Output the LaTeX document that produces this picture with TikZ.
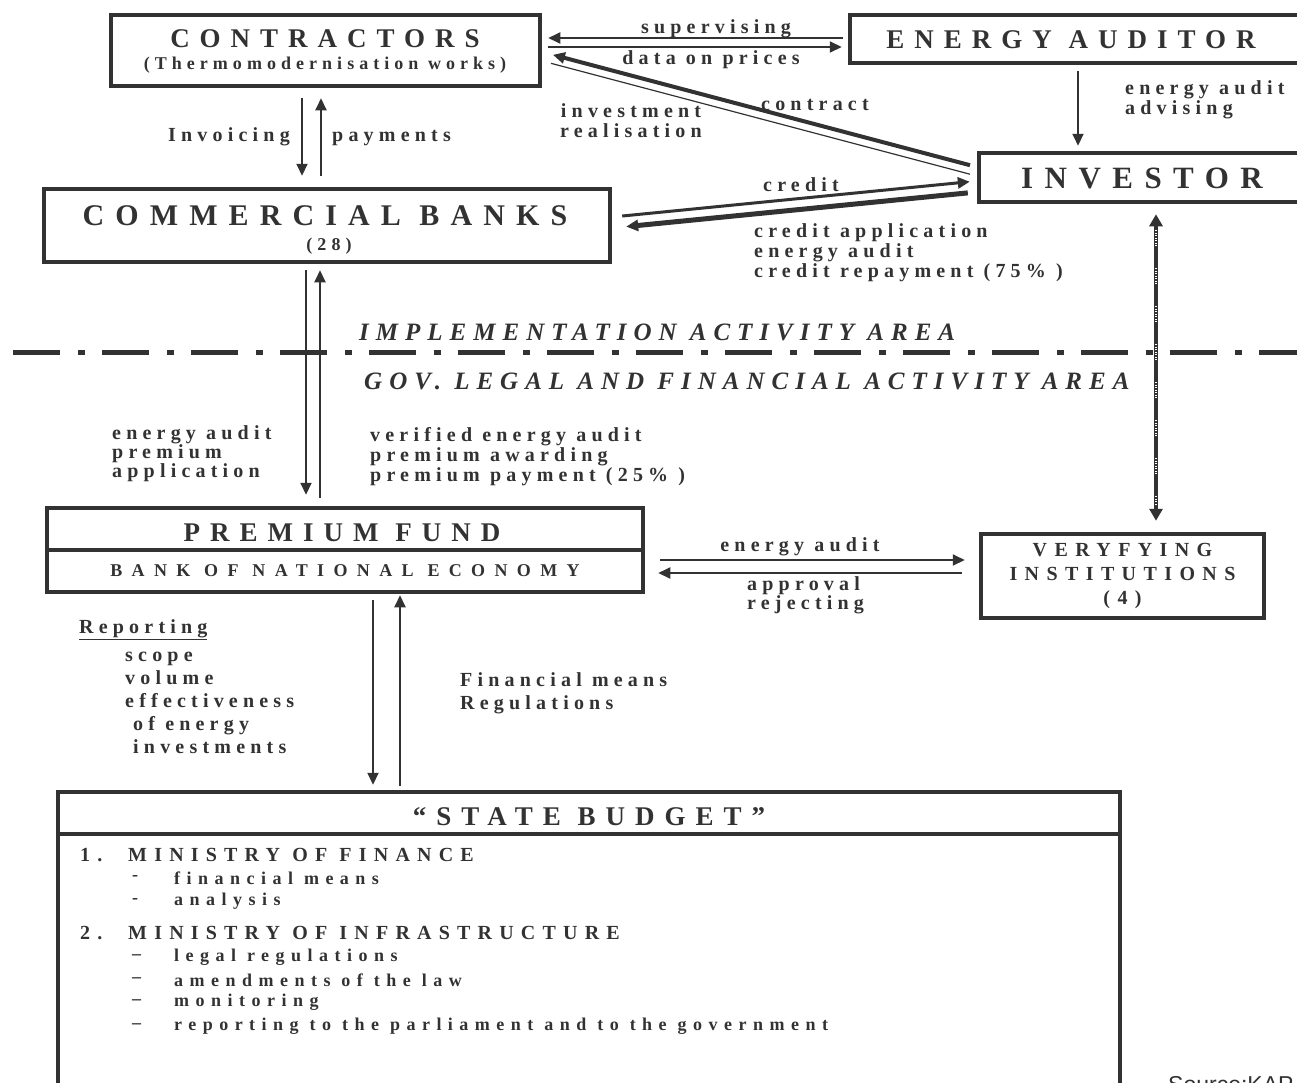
\documentclass[tikz,border=0pt]{standalone}
\usepackage{fontspec}
\newfontfamily\capfont{Liberation Serif}[LetterSpace=37]
\newfontfamily\subfont{Liberation Serif}[LetterSpace=28]
\newfontfamily\bankfont{Liberation Serif}[LetterSpace=52]
\newfontfamily\areafont{Liberation Serif}[LetterSpace=28]
\newfontfamily\lblfont{Liberation Serif}[LetterSpace=26]
\newfontfamily\budfont{Liberation Serif}[LetterSpace=36]
\newfontfamily\srcfont{Liberation Sans}
\usetikzlibrary{arrows.meta}
\definecolor{ink}{RGB}{50,50,50}

\tikzset{
  box/.style={draw=ink, line width=4.5pt, inner sep=0pt, align=center, text=ink},
  ttl/.style={text=ink, inner sep=0pt, align=center, font=\capfont\bfseries\fontsize{#1}{#1}\selectfont},
  ttl/.default=27,
  sub/.style={text=ink, inner sep=0pt, font=\subfont\bfseries\fontsize{18}{18}\selectfont},
  lbl/.style={text=ink, inner sep=0pt, align=left, font=\lblfont\bfseries\fontsize{20}{#1}\selectfont},
  lbl/.default=20,
  area/.style={text=ink, inner sep=0pt, anchor=west, font=\areafont\bfseries\itshape\fontsize{25}{25}\selectfont},
  bud/.style={text=ink, inner sep=0pt, anchor=west, font=\budfont\bfseries\fontsize{#1}{#1}\selectfont},
  arr/.style={draw=ink, line width=2pt, -{Triangle[length=12pt,width=11pt]}},
  areasep/.style={draw=ink, line width=5pt, dash pattern=on 47pt off 18pt on 7pt off 17pt},
}

\begin{document}
\begin{tikzpicture}[x=1pt,y=-1pt]
\useasboundingbox (0,0) rectangle (1297,1082);

% implementation area
\node[box, minimum width=429pt, minimum height=71pt] (contr) at (325.5,50.5) {};
\node[ttl] (contrT) at (325,39) {CONTRACTORS};
\node[sub] (contrS) at (325,65) {(Thermomodernisation works)};

\node[box, minimum width=500pt, minimum height=48pt] (auditor) at (1100,39) {};
\node[ttl] (auditorT) at (1071,40) {ENERGY AUDITOR};

\node[box, minimum width=500pt, minimum height=49pt] (investor) at (1229,177.5) {};
\node[ttl=31] (investorT) at (1142,178) {INVESTOR};

\node[box, minimum width=566pt, minimum height=73pt] (banks) at (327,225.5) {};
\node[ttl=30] (banksT) at (325,216) {COMMERCIAL BANKS};
\node[sub] (banksN) at (329,246) {(28)};

\draw[arr, shorten <=5pt, shorten >=6pt] (auditor.west|-0,38) -- (contr.east|-0,38);
\draw[arr, shorten <=6pt, shorten >=6pt] (contr.east|-0,47) -- (auditor.west|-0,47);
\node[lbl] (supL) at (716,29) {supervising};
\node[lbl] (dataL) at (711,60) {data on prices};

\draw[arr, line width=4pt, shorten <=7pt, shorten >=11pt] (investor.west|-0,167) -- (contr.east|-0,52);
\draw[draw=ink, line width=1.2pt, shorten <=7pt, shorten >=9pt] (investor.west|-0,176) -- (contr.east|-0,61);
\node[lbl, anchor=west] (contractL) at (761,105) {contract};
\node[lbl, align=center] (realL) at (631,121) {investment\\realisation};

\draw[arr, shorten <=6pt, shorten >=5pt] (auditor.south-|1078,0) -- (investor.north-|1078,0);
\node[lbl, anchor=west] (adviseL) at (1125,100) {energy audit\\advising};

\draw[arr, shorten <=10pt, shorten >=11pt] (contr.south-|302,0) -- (banks.north-|302,0);
\draw[arr, shorten <=11pt, shorten >=10pt] (banks.north-|321,0) -- (contr.south-|321,0);
\node[lbl, anchor=east] (invoiceL) at (290,137) {Invoicing};
\node[lbl, anchor=west] (payL) at (332,138) {payments};

\draw[arr, line width=3pt, shorten <=10pt, shorten >=7pt] (banks.east|-0,217) -- (investor.west|-0,181);
\draw[arr, line width=5pt, shorten <=9pt, shorten >=14pt] (investor.west|-0,192) -- (banks.east|-0,228);
\node[lbl, anchor=west] (creditL) at (763,185) {credit};
\node[lbl, anchor=west] (applyL) at (754,253) {credit application\\energy audit\\credit repayment (75\% )};

% border between the two areas
\draw[areasep] (13,352) -- (1297,352);
\node[area] (implL) at (359,332) {IMPLEMENTATION ACTIVITY AREA};
\node[area] (govL) at (364,381) {GOV. LEGAL AND FINANCIAL ACTIVITY AREA};

% government area
\node[box, minimum width=596pt, minimum height=42pt] (fundT) at (345,529) {};
\node[box, minimum width=596pt, minimum height=42pt] (fundB) at (345,571) {};
\node[ttl] (fundTT) at (342,533) {PREMIUM FUND};
\node[text=ink, inner sep=0pt, font=\bankfont\bfseries\fontsize{18}{18}\selectfont] (fundBT) at (345,571) {BANK OF NATIONAL ECONOMY};

\draw[arr, shorten <=6pt, shorten >=11pt] (banks.south-|306,0) -- (fundT.north-|306,0);
\draw[arr, shorten <=8pt, shorten >=6pt] (fundT.north-|320,0) -- (banks.south-|320,0);
\node[lbl=19, anchor=west] (premAppL) at (112,454) {energy audit\\premium\\application};
\node[lbl, anchor=west] (premPayL) at (370,457) {verified energy audit\\premium awarding\\premium payment (25\% )};

\node[box, minimum width=283pt, minimum height=84pt, font=\capfont\bfseries\fontsize{20}{24}\selectfont] (verif) at (1122.5,576) {VERYFYING\\INSTITUTIONS\\(4)};

\draw[arr, shorten <=15pt, shorten >=14pt] (fundB.east|-0,560) -- (verif.west|-0,560);
\draw[arr, shorten <=17pt, shorten >=13pt] (verif.west|-0,573) -- (fundB.east|-0,573);
\node[lbl] (auditL) at (800,547) {energy audit};
\node[lbl=19, anchor=west] (approveL) at (747,595) {approval\\rejecting};

\draw[draw=ink, line width=4pt, {Triangle[length=12pt,width=13pt]}-{Triangle[length=12pt,width=13pt]}, shorten <=10pt, shorten >=11pt] (investor.south-|1156,0) -- (verif.north-|1156,0);
\draw[white, line width=1.2pt, dash pattern=on 1pt off 1.5pt on 1pt off 1.5pt on 1pt off 1.5pt on 1pt off 1.5pt on 1pt off 1.5pt on 1pt off 1.5pt on 1pt off 22pt, shorten <=26pt, shorten >=26pt] (investor.south-|1156,0) -- (verif.north-|1156,0);

\node[box, minimum width=1062pt, minimum height=42pt] (budgetT) at (589,813) {};
\node[box, minimum width=1062pt, minimum height=300pt] (budgetB) at (589,984) {};
\node[ttl] (budgetTT) at (589,817) {“STATE BUDGET”};

\draw[arr, shorten <=6pt, shorten >=5pt] (fundB.south-|373,0) -- (budgetT.north-|373,0);
\draw[arr, shorten <=4pt, shorten >=1pt] (budgetT.north-|400,0) -- (fundB.south-|400,0);
\node[lbl, anchor=west] (repL) at (79,630) {\underline{Reporting}};
\node[lbl=23, anchor=west] (repItems) at (125,703) {scope\\volume\\effectiveness\\\hspace*{8pt}of energy\\\hspace*{8pt}investments};
\node[lbl=23, anchor=west] (meansL) at (460,693) {Financial means\\Regulations};

\node[bud=20] (num1) at (80,855) {1.};
\node[bud=20] (minFin) at (128,855) {MINISTRY OF FINANCE};
\node[bud=20] (num2) at (80,933) {2.};
\node[bud=20] (minInf) at (128,933) {MINISTRY OF INFRASTRUCTURE};
\foreach \y/\d/\t [count=\i] in {878/-/financial means, 901/-/analysis, 957/–/legal regulations, 980/–/amendments of the law, 1002/–/monitoring, 1026/–/reporting to the parliament and to the government} {
  \node[bud=18] (dash\i) at (132,\y) {\d};
  \node[bud=18] (item\i) at (174,\y) {\t};
}

\node[text=ink, inner sep=0pt, anchor=base west, font=\srcfont\fontsize{23}{24}\selectfont] (src) at (1168,1092) {Source:KAP};
\end{tikzpicture}
\end{document}
